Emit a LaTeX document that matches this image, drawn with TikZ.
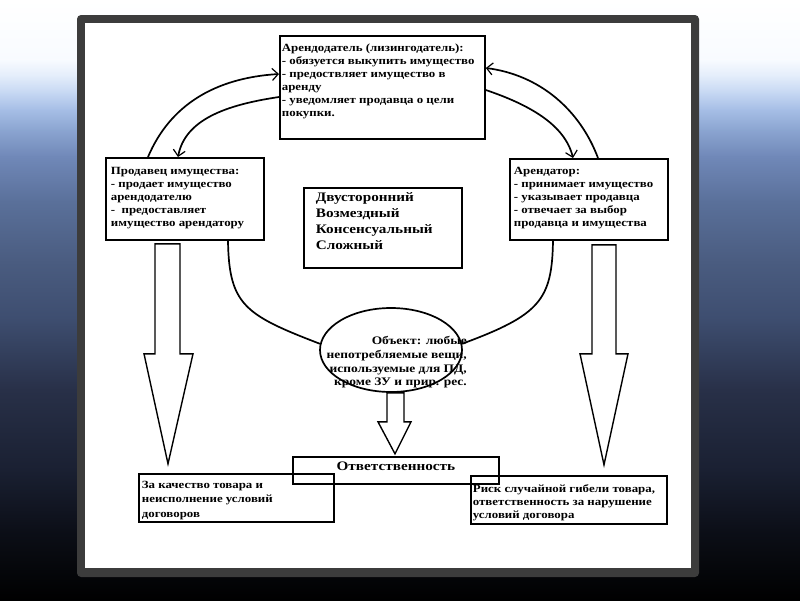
\documentclass[tikz,border=0pt]{standalone}
\usepackage{fontspec}
\setmainfont{Liberation Serif}[FakeStretch=1.17]
\usetikzlibrary{arrows.meta,shapes.geometric}

\definecolor{bgA}{HTML}{F8FBFF}
\definecolor{bgB}{HTML}{E2ECFA}
\definecolor{bgC}{HTML}{C4D6F2}
\definecolor{bgD}{HTML}{A6BEE6}
\definecolor{bgE}{HTML}{8AA4D0}
\definecolor{bgF}{HTML}{7088B8}
\definecolor{bgG}{HTML}{5A709A}
\definecolor{bgH}{HTML}{4A5C80}
\definecolor{bgI}{HTML}{3E4E70}
\definecolor{bgJ}{HTML}{283048}
\definecolor{bgK}{HTML}{1A2032}
\definecolor{bgL}{HTML}{0C0F18}
\definecolor{framegray}{HTML}{3C3C3C}

\begin{document}
\begin{tikzpicture}[x=1pt,y=-1pt,
	box/.style={draw, line width=1.8pt, anchor=north west, inner sep=0pt,
		font=\bfseries\fontsize{11}{13}\selectfont},
	link/.style={line width=1.7pt},
	flow/.style={link, -{Straight Barb[length=6pt,width=12pt,line width=1.2pt]}},
	blockarrow/.style={draw, line width=1.4pt, fill=white, line join=miter}]
	\useasboundingbox (0,0) rectangle (800,600);
	% background
	\foreach \ya/\yb/\ca/\cb in {0/60/white/bgA, 60/77/bgA/bgB, 77/94/bgB/bgC, 94/110/bgC/bgD,
		110/131/bgD/bgE, 131/157/bgE/bgF, 157/202/bgF/bgG, 202/262/bgG/bgH, 262/318/bgH/bgI,
		318/390/bgI/bgJ, 390/470/bgJ/bgK, 470/530/bgK/bgL, 530/600.5/bgL/black}
		\shade[top color=\ca, bottom color=\cb] (0,\ya-0.5) rectangle (800,\yb);
	\fill[framegray, rounded corners=4pt] (77,15) rectangle (699,577);
	\fill[white] (85,23) rectangle (691,568);
	
	% boxes
	\node[box, inner xsep=2pt, inner ysep=8pt] (lessor) at (279,35) {\parbox[c][87pt][t]{201pt}{\raggedright
		Арендодатель (лизингодатель):\\
		- обязуется выкупить имущество\\
		- предоствляет имущество в\\
		аренду\\
		- уведомляет продавца о цели\\
		покупки.}};
	\node[box, inner xsep=5pt, inner ysep=9pt] (seller) at (105,157) {\parbox[c][64pt][t]{148pt}{\raggedright
		Продавец имущества:\\
		- продает имущество\\
		арендодателю\\
		-\ \ предоставляет\\
		имущество арендатору}};
	\node[box, inner xsep=4pt, inner ysep=8pt] (lessee) at (509,158) {\parbox[c][65pt][t]{150pt}{\raggedright
		Арендатор:\\
		- принимает имущество\\
		- указывает продавца\\
		- отвечает за выбор\\
		продавца и имущества}};
	\node[box, inner xsep=12pt, inner ysep=5pt, font=\bfseries\fontsize{13}{16}\selectfont] (kinds) at (303,187)
		{\parbox[c][70pt][t]{134pt}{\raggedright
		Двусторонний\\
		Возмездный\\
		Консенсуальный\\
		Сложный}};
	\node[draw, ellipse, line width=1.7pt, minimum width=142pt, minimum height=84pt, inner sep=0pt] (obj) at (391,350) {};
	\node[align=right, anchor=north east, inner sep=0pt, font=\bfseries\fontsize{11.5}{13.8}\selectfont] (objtext)
		at ([xshift=76pt,yshift=14pt]obj.center)
		{Объект: любые\\ непотребляемые вещи,\\ используемые для ПД,\\ кроме ЗУ и прир. рес.};
	\node[box, minimum width=206pt, minimum height=27pt, text height=8pt, text depth=8pt,
		font=\bfseries\fontsize{13}{14}\selectfont] (resp) at (292,456) {Ответственность};
	\node[box, inner xsep=3pt, inner ysep=7pt, font=\bfseries\fontsize{11}{14.5}\selectfont] (quality) at (138,473)
		{\parbox[c][34pt][t]{189pt}{\raggedright
		За качество товара и\\
		неисполнение условий\\
		договоров}};
	\node[box, inner xsep=2pt, inner ysep=9pt, font=\bfseries\fontsize{11}{13}\selectfont] (risk) at (470,475)
		{\parbox[c][30pt][t]{192pt}{\raggedright
		Риск случайной гибели товара,\\
		ответственность за нарушение\\
		условий договора}};
	
	% curved links
	\draw[flow] ([xshift=43pt]seller.north west) .. controls (170,105) and (215,78) .. ([yshift=-39pt]lessor.north west);
	\draw[flow] ([yshift=-62pt]lessor.north west) .. controls (225,105) and (185,120) .. ([xshift=73pt]seller.north west);
	\draw[flow] ([yshift=-55pt]lessor.north east) .. controls (530,105) and (565,125) .. ([xshift=64pt]lessee.north west);
	\draw[flow] ([xshift=89pt]lessee.north west) .. controls (580,110) and (540,75) .. ([yshift=-33pt]lessor.north east);
	\draw[link] ([xshift=123pt]seller.south west) .. controls (229,305) and (245,315) .. (obj.175);
	\draw[link] ([xshift=44pt]lessee.south west) .. controls (552,300) and (540,315) .. (obj.5);
	
	% block arrows
	\draw[blockarrow] ([xshift=50pt,yshift=-3pt]seller.south west) -- ++(25,0) -- ++(0,110) -- ++(13,0)
		-- ++(-25,110) -- ++(-24,-110) -- ++(11,0) -- cycle;
	\draw[blockarrow] ([xshift=83pt,yshift=-4pt]lessee.south west) -- ++(24,0) -- ++(0,109) -- ++(12,0)
		-- ++(-24,111) -- ++(-24,-111) -- ++(12,0) -- cycle;
	\draw[blockarrow] ([xshift=-4pt]obj.south) -- ++(17,0) -- ++(0,29) -- ++(7,0)
		-- ++(-16,32) -- ++(-17,-32) -- ++(9,0) -- cycle;
\end{tikzpicture}
\end{document}
